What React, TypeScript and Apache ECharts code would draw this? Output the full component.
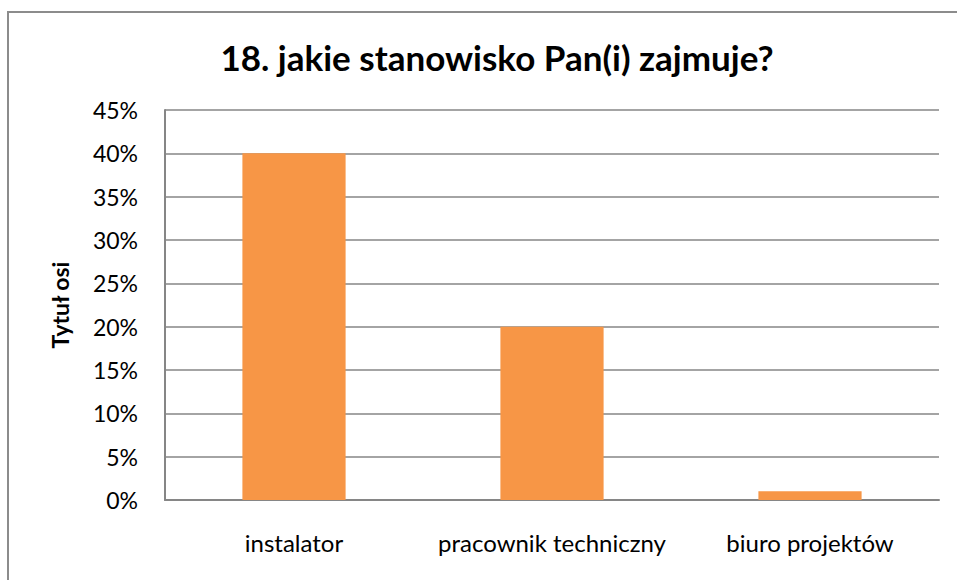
import React, { useEffect, useRef } from "react";
import * as echarts from "echarts";

const categories = ["instalator", "pracownik techniczny", "biuro projektów"];
const values = [0.4, 0.2, 0.01];
const titleText = "18. jakie stanowisko Pan(i) zajmuje?";
const axisTitle = "Tytuł osi";

export default function App() {
  const ref = useRef<HTMLDivElement>(null);
  useEffect(() => {
    document.body.style.margin = "0";
    const chart = echarts.init(ref.current!, null, { renderer: "svg" });
    chart.setOption({
      animation: false,
      backgroundColor: "#ffffff",
      title: {
        text: titleText,
        left: 492,
        textAlign: "center",
        top: 34,
        textStyle: { fontFamily: "Lato", fontWeight: "bold", fontSize: 35, color: "#000" },
      },
      graphic: [
        {
          type: "rect",
          shape: { x: 8, y: 12, width: 1200, height: 1000 },
          style: { fill: "none", stroke: "#8c8c8c", lineWidth: 2 },
          silent: true,
        },
      ],
      grid: { left: 165, top: 110, right: 18, bottom: 80 },
      xAxis: {
        type: "category",
        data: categories,
        axisLine: { lineStyle: { color: "#868686", width: 2 } },
        axisTick: { show: false },
        axisLabel: {
          color: "#000",
          fontFamily: "Lato",
          fontSize: 24,
          margin: 30,
          interval: 0,
          hideOverlap: false,
        },
      },
      yAxis: {
        type: "value",
        min: 0,
        max: 0.45,
        interval: 0.05,
        name: axisTitle,
        nameLocation: "middle",
        nameGap: 94,
        nameRotate: 90,
        nameTextStyle: { fontFamily: "Lato", fontWeight: "bold", fontSize: 23, color: "#000" },
        axisLine: { show: true, lineStyle: { color: "#868686", width: 2 } },
        axisTick: { show: false },
        splitLine: { lineStyle: { color: "#868686", width: 1.5 } },
        axisLabel: {
          color: "#000",
          fontFamily: "Lato",
          fontSize: 23,
          margin: 27,
          formatter: (v: number) => Math.round(v * 100) + "%",
        },
      },
      series: [
        {
          type: "bar",
          data: values,
          barWidth: "40%",
          itemStyle: { color: "#F79646" },
        },
      ],
    });
    return () => chart.dispose();
  }, []);
  return <div ref={ref} style={{ width: 957, height: 580 }} />;
}
